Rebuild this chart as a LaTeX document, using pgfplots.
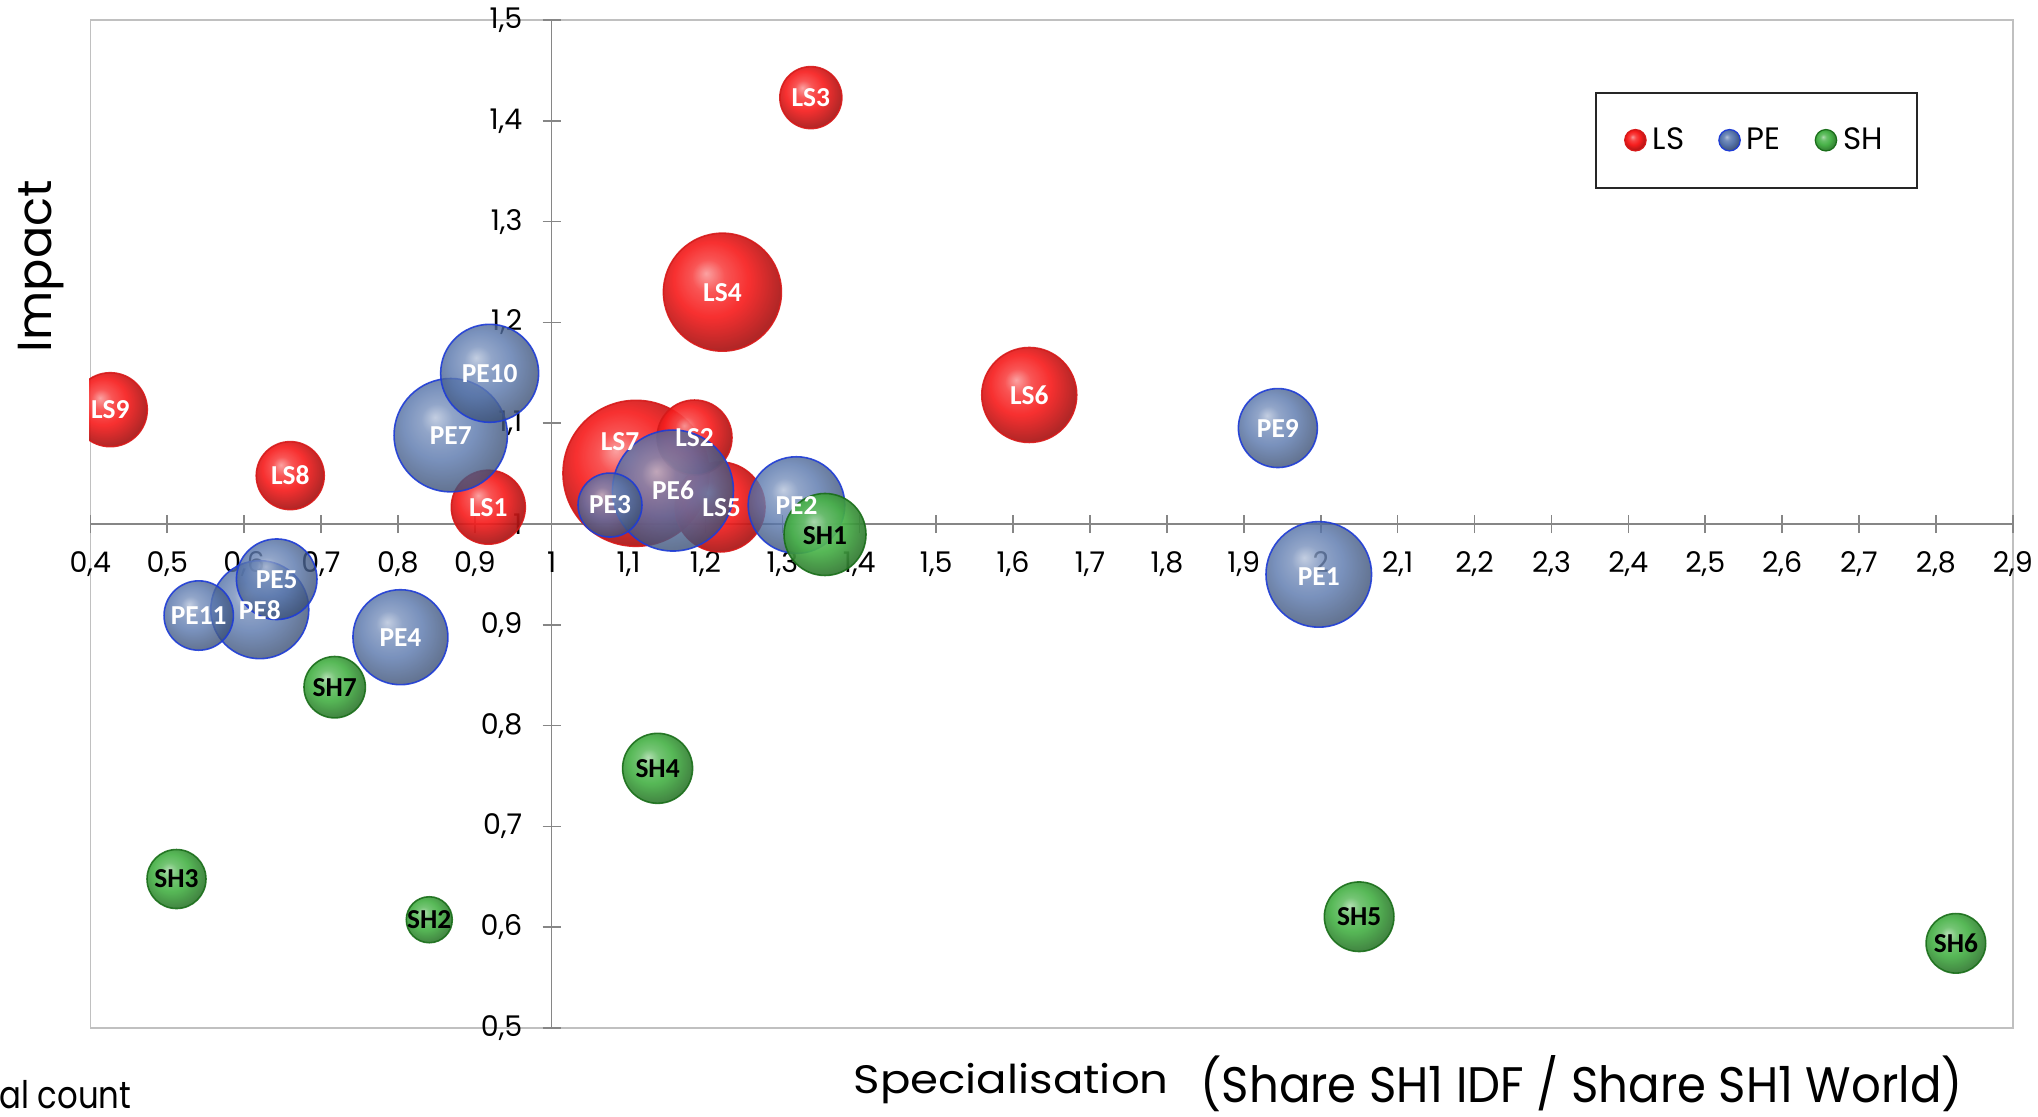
\documentclass[border=0pt]{standalone}
\usepackage{fontspec}
\setmainfont{Poppins}
\newfontfamily\carlito{Carlito}
\usepackage{pgfplots}
\usepackage{pgfplotstable}
\pgfplotsset{compat=1.18}

\definecolor{lsc}{RGB}{246,30,30}
\definecolor{pec}{RGB}{88,118,172}
\definecolor{shc}{RGB}{72,178,72}
\definecolor{lsline}{RGB}{215,25,25}
\definecolor{peline}{RGB}{30,60,215}
\definecolor{shline}{RGB}{25,110,25}
\definecolor{axgray}{RGB}{134,134,134}
\definecolor{framegray}{RGB}{192,192,192}

% sphere-like shadings, the path edge sits at 25bp
\pgfdeclareradialshading{ballLS}{\pgfpoint{-7bp}{8bp}}{color(0bp)=(lsc!45!white); color(7bp)=(lsc!82!white); color(16bp)=(lsc); color(27bp)=(lsc!72!black); color(34bp)=(lsc!55!black); color(50bp)=(lsc!50!black)}
\pgfdeclareradialshading{ballPE}{\pgfpoint{-7bp}{8bp}}{color(0bp)=(pec!45!white); color(7bp)=(pec!82!white); color(16bp)=(pec); color(27bp)=(pec!72!black); color(34bp)=(pec!55!black); color(50bp)=(pec!50!black)}
\pgfdeclareradialshading{ballSH}{\pgfpoint{-7bp}{8bp}}{color(0bp)=(shc!45!white); color(7bp)=(shc!82!white); color(16bp)=(shc); color(27bp)=(shc!72!black); color(34bp)=(shc!55!black); color(50bp)=(shc!50!black)}
\pgfdeclareplotmark{nothing}{}

% x, y = bubble centre; r = radius in reference pixels (1 px = 0.1 mm)
\pgfplotstableread{
label x y r
LS7 1.1096 1.0503 73
LS4 1.2220 1.2300 59
LS6 1.6210 1.1280 47.5
LS5 1.2189 1.0169 45
LS2 1.1857 1.0858 37.5
LS1 0.9176 1.0167 37
LS9 0.4260 1.1134 37
LS8 0.6600 1.0480 34
LS3 1.3370 1.4230 31
}\lsdata
\pgfplotstableread{
label x y r
PE6 1.1577 1.0332 60.5
PE7 0.8687 1.0881 56.7
PE1 1.9975 0.9500 52.8
PE8 0.6204 0.9150 49
PE10 0.9193 1.1495 49
PE2 1.3183 1.0188 48.3
PE4 0.8033 0.8877 47.5
PE5 0.6424 0.9452 40.3
PE9 1.9443 1.0952 39.5
PE11 0.5410 0.9092 34.7
PE3 1.0758 1.0188 32
}\pedata
\pgfplotstableread{
label x y r
SH1 1.3554 0.9896 41
SH4 1.1377 0.7576 35
SH5 2.0500 0.6104 34.8
SH7 0.7178 0.8381 30.7
SH6 2.8260 0.5840 29.8
SH3 0.5121 0.6478 29.5
SH2 0.8408 0.6074 23
}\shdata
% label positions
\pgfplotstableread{
label x y
LS7 1.0888 1.0816
LS4 1.2220 1.2300
LS6 1.6210 1.1280
LS5 1.2210 1.0160
LS2 1.1857 1.0858
LS1 0.9176 1.0167
LS9 0.4260 1.1134
LS8 0.6600 1.0480
LS3 1.3370 1.4230
PE6 1.1577 1.0332
PE7 0.8687 1.0881
PE1 1.9975 0.9480
PE8 0.6204 0.9150
PE10 0.9193 1.1495
PE2 1.3183 1.0188
PE4 0.8033 0.8877
PE5 0.6424 0.9452
PE9 1.9443 1.0952
PE11 0.5410 0.9092
PE3 1.0758 1.0188
}\whitelabels
\pgfplotstableread{
label x y
SH1 1.3554 0.9885
SH4 1.1377 0.7576
SH5 2.0500 0.6104
SH7 0.7178 0.8381
SH6 2.8260 0.5840
SH3 0.5121 0.6478
SH2 0.8408 0.6074
}\blacklabels

\pgfplotsset{
  bubble/.style n args={3}{
    only marks, mark=nothing, forget plot,
    visualization depends on={\thisrow{r}\as\rad},
    nodes near coords={},
    every node near coord/.style={anchor=center, circle, inner sep=0pt, outer sep=0pt,
      minimum size=\rad*0.2mm, shade, shading=#1, draw=#2, fill opacity=#3,
      draw opacity=0.9, line width=0.45pt},
  },
  ballkey/.style 2 args={
    legend image code/.code={%
      \shadedraw[shading=#1, draw=#2, line width=0.35pt] (1.07mm,0) circle[radius=1.07mm];},
  },
  bubblelabel/.style={
    only marks, mark=nothing, forget plot,
    nodes near coords, point meta=explicit symbolic,
    nodes near coords style={anchor=center, inner sep=0pt,
      font=\carlito\bfseries\fontsize{7.8}{8}\selectfont, text=#1},
  },
}

\begin{document}
\begin{tikzpicture}

\begin{axis}[
  at={(9.03mm,8.8mm)}, anchor=south west,
  width=192.25mm, height=100.8mm, scale only axis,
  set layers,
  xmin=0.4, xmax=2.9, ymin=0.5, ymax=1.5,
  % the axis lines cross at (1,1)
  x coord trafo/.code={\pgfmathparse{#1-1}},
  x coord inv trafo/.code={\pgfmathparse{#1+1}},
  y coord trafo/.code={\pgfmathparse{#1-1}},
  y coord inv trafo/.code={\pgfmathparse{#1+1}},
  axis lines=middle,
  axis line style={-, draw=axgray, line width=0.45pt},
  axis background/.style={draw=framegray, line width=0.45pt},
  hide obscured x ticks=false, hide obscured y ticks=false,
  xtick={0.4,0.5,0.6,0.7,0.8,0.9,1,1.1,1.2,1.3,1.4,1.5,1.6,1.7,1.8,1.9,2,2.1,2.2,2.3,2.4,2.5,2.6,2.7,2.8,2.9},
  ytick={0.5,0.6,0.7,0.8,0.9,1,1.1,1.2,1.3,1.4,1.5},
  minor tick num=0,
  tick align=center, major tick length=1.8mm,
  tick style={draw=axgray, line width=0.45pt},
  ticklabel style={font=\fontsize{8.1}{9}\selectfont},
  xticklabel style={yshift=-0.6mm},
  yticklabel style={xshift=-0.8mm},
  /pgf/number format/.cd, use comma, fixed, precision=1, 1000 sep={}, assume math mode=true,
  /pgfplots/.cd,
  legend columns=3,
  legend cell align=left,
  legend style={at={(rel axis cs:0.7827,0.9289)}, anchor=north west,
    draw=black!85, line width=0.6pt, fill=white,
    inner xsep=2.8mm, inner ysep=3.45mm,
    font=\fontsize{8.8}{9}\selectfont,
    nodes={inner xsep=0.6mm, inner ysep=0pt, text height=2.2mm, text depth=0.4mm},
    /tikz/every even column/.append style={column sep=2.8mm}},
]

\addplot[bubble={ballLS}{lsline}{0.92}] table[x=x, y=y] \lsdata;
\addplot[bubble={ballPE}{peline}{0.8}] table[x=x, y=y] \pedata;
\addplot[bubble={ballSH}{shline}{0.92}] table[x=x, y=y] \shdata;

\addplot[bubblelabel=white] table[x=x, y=y, meta=label] \whitelabels;
\addplot[bubblelabel=black] table[x=x, y=y, meta=label] \blacklabels;

\addlegendimage{ballkey={ballLS}{lsline}}
\addlegendentry{LS}
\addlegendimage{ballkey={ballPE}{peline}}
\addlegendentry{PE}
\addlegendimage{ballkey={ballSH}{shline}}
\addlegendentry{SH}

\end{axis}

% the plot area cuts LS9 at its left edge
\fill[white] (5.5mm,66.2mm) rectangle (8.94mm,75.2mm);

\node[rotate=90, anchor=base, inner sep=0pt, font=\fontsize{13.6}{15}\selectfont] at (5.17mm,85mm) {Impact};
\node[anchor=base west, inner sep=0pt] at (85.3mm,2.25mm)
  {\resizebox{31.5mm}{\height}{\fontsize{11.3}{13}\selectfont Specialisation}};
\node[anchor=base west, inner sep=0pt] at (120mm,1.35mm)
  {\resizebox{76.2mm}{\height}{\fontsize{14.2}{16}\selectfont (Share SH1 IDF / Share SH1 World)}};
\node[anchor=base east, inner sep=0pt] at (13.2mm,0.8mm)
  {\resizebox{13.2mm}{\height}{\fontsize{10.8}{12}\selectfont al count}};

\pgfresetboundingbox
\useasboundingbox (0,0) rectangle (203.8mm,111.6mm);
\end{tikzpicture}
\end{document}
